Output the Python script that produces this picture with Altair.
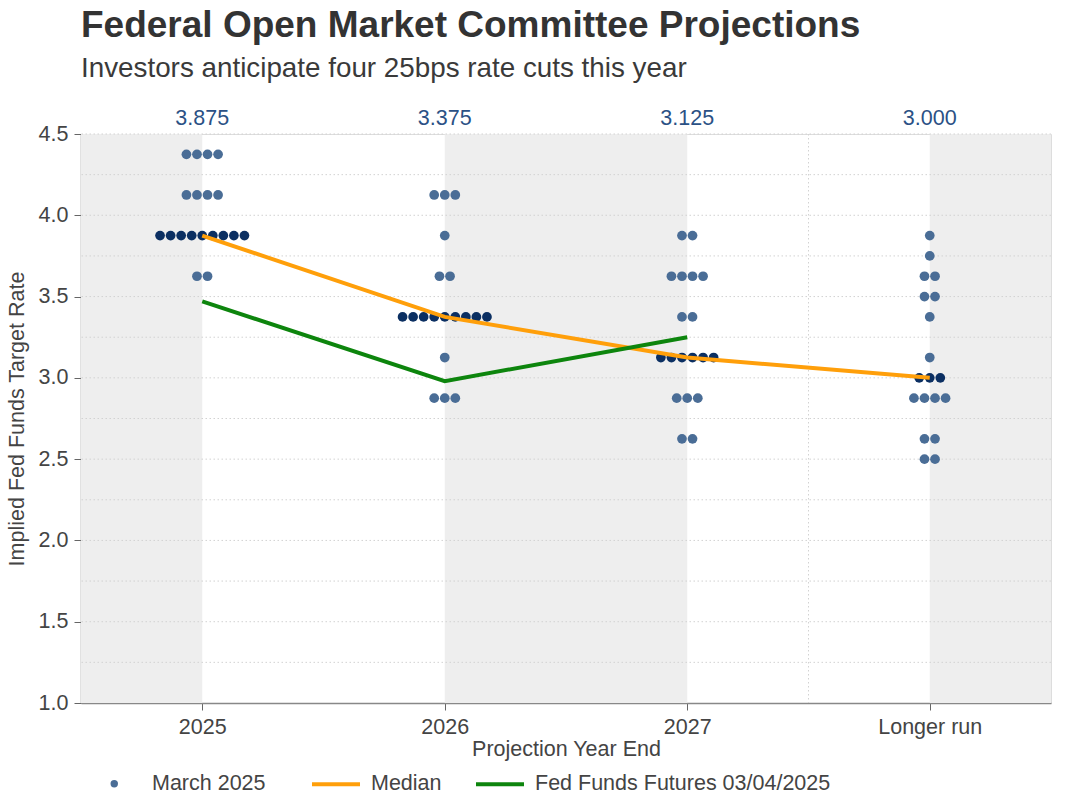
import json
import altair as alt
import pandas as pd

# ---------------- data ----------------
categories = ["2025", "2026", "2027", "Longer run"]

rates_2025 = [4.375, 4.125, 3.875, 3.625]
counts_2025 = [4, 4, 9, 2]
rates_2026 = [4.125, 3.875, 3.625, 3.375, 3.125, 2.875]
counts_2026 = [3, 1, 2, 9, 1, 3]
rates_2027 = [3.875, 3.625, 3.375, 3.125, 2.875, 2.625]
counts_2027 = [2, 4, 2, 6, 3, 2]
rates_lr = [3.875, 3.75, 3.625, 3.5, 3.375, 3.125, 3.0, 2.875, 2.625, 2.5]
counts_lr = [1, 1, 2, 2, 1, 1, 3, 4, 2, 2]

median_values = [3.875, 3.375, 3.125, 3.000]
futures_values = [3.47, 2.98, 3.25]

y_ticks = [1.0, 1.5, 2.0, 2.5, 3.0, 3.5, 4.0, 4.5]
grid_levels = [1.25, 1.5, 1.75, 2.0, 2.25, 2.5, 2.75, 3.0, 3.25, 3.5, 3.75, 4.0, 4.25, 4.5]

DOT_SERIES = "March 2025"
MEDIAN_SERIES = "Median"
FUTURES_SERIES = "Fed Funds Futures 03/04/2025"

# ---------------- styling ----------------
FONT = "Liberation Sans"
W, H = 970, 569
DOT_STEP = 0.0435  # horizontal spacing between dots (category units)
LIGHT = "#4a6d96"
DARK = "#0b2f62"
ORANGE = "#ff9f0a"
GREEN = "#0d850d"
BAND = "#eeeeee"
TEXT = "#444444"

# ---------------- tables ----------------
dot_rows = []
for ci, (rates, counts) in enumerate(
    [(rates_2025, counts_2025), (rates_2026, counts_2026),
     (rates_2027, counts_2027), (rates_lr, counts_lr)]):
    for r, n in zip(rates, counts):
        for k in range(n):
            dot_rows.append({
                "xpos": ci + (k - (n - 1) / 2) * DOT_STEP,
                "rate": r,
                "series": DOT_SERIES,
                "is_median": r == median_values[ci],
            })
dots = pd.DataFrame(dot_rows)

lines = pd.DataFrame(
    [{"xpos": i, "rate": v, "series": MEDIAN_SERIES} for i, v in enumerate(median_values)]
    + [{"xpos": i, "rate": v, "series": FUTURES_SERIES} for i, v in enumerate(futures_values)]
)

labels_top = pd.DataFrame(
    {"xpos": list(range(len(categories))), "label": [f"{v:.3f}" for v in median_values]}
)

n = len(categories)
band_edges = [-0.5] + [i for i in range(n)] + [n - 0.5]
bands = pd.DataFrame(
    [{"x0": band_edges[i], "x1": band_edges[i + 1]} for i in range(0, len(band_edges) - 1, 2)]
)
grid = pd.DataFrame({"rate": grid_levels})
vgrid = pd.DataFrame({"xpos": [2.5]})

x_scale = alt.Scale(domain=[-0.5, n - 0.5], nice=False, zero=False)
y_scale = alt.Scale(domain=[1.0, 4.5], nice=False, zero=False)

label_expr = f"{json.dumps(categories)}[datum.value]"

x_axis = alt.Axis(
    values=list(range(n)), labelExpr=label_expr, title="Projection Year End",
    grid=False, tickSize=7, tickColor="#666", domainColor="#888", domainWidth=1.5,
    labelFontSize=21.5, labelColor=TEXT, titleFontSize=21.5, titleColor=TEXT,
    titleFontWeight="normal", labelPadding=6, titlePadding=1, labelFont=FONT, titleFont=FONT,
)
y_axis = alt.Axis(
    values=y_ticks, format=".1f", title="Implied Fed Funds Target Rate",
    grid=False, tickSize=7, tickColor="#666", domainColor="#888", domainWidth=1.5,
    labelFontSize=21.5, labelColor=TEXT, titleFontSize=21.5, titleColor=TEXT,
    titleFontWeight="normal", labelPadding=6, titlePadding=10, labelFont=FONT, titleFont=FONT,
)

band_layer = alt.Chart(bands).mark_rect(color=BAND).encode(
    x=alt.X("x0:Q", scale=x_scale, axis=x_axis),
    x2="x1:Q",
    y=alt.Y(datum=4.5, scale=y_scale, axis=y_axis),
    y2=alt.Y2(datum=1.0),
)

grid_layer = alt.Chart(grid).mark_rule(
    color="#d2d2d2", strokeWidth=1, strokeDash=[1.5, 2.5]
).encode(y=alt.Y("rate:Q", scale=y_scale))

vgrid_layer = alt.Chart(vgrid).mark_rule(
    color="#d2d2d2", strokeWidth=1, strokeDash=[1.5, 2.5]
).encode(x=alt.X("xpos:Q", scale=x_scale))

dot_layer = alt.Chart(dots).mark_circle(size=95, opacity=1).encode(
    x=alt.X("xpos:Q", scale=x_scale),
    y=alt.Y("rate:Q", scale=y_scale),
    fill=alt.condition(
        "datum.is_median",
        alt.value(DARK),
        alt.Fill(
            "series:N",
            scale=alt.Scale(domain=[DOT_SERIES], range=[LIGHT]),
            legend=alt.Legend(
                title=None, orient="none", legendX=22.5, legendY=639,
                symbolType="circle", symbolSize=55, symbolFillColor=LIGHT,
                labelFontSize=21.5, labelColor=TEXT, labelFont=FONT,
                labelOffset=27, padding=0, labelLimit=400,
            ),
        ),
    ),
)

line_layer = alt.Chart(lines).mark_line(strokeWidth=4).encode(
    x=alt.X("xpos:Q", scale=x_scale),
    y=alt.Y("rate:Q", scale=y_scale),
    stroke=alt.Stroke(
        "series:N",
        scale=alt.Scale(domain=[MEDIAN_SERIES, FUTURES_SERIES], range=[ORANGE, GREEN]),
        legend=alt.Legend(
            title=None, orient="none", direction="horizontal", legendX=229, legendY=624,
            symbolType="stroke", symbolSize=2304, symbolStrokeWidth=4,
            labelFontSize=21.5, labelColor=TEXT, labelFont=FONT,
            labelOffset=9, columnPadding=26, padding=0, labelLimit=500,
        ),
    ),
    detail="series:N",
)

text_layer = alt.Chart(labels_top).mark_text(
    fontSize=21.5, color="#2b5185", font=FONT, baseline="alphabetic", dy=0
).encode(
    x=alt.X("xpos:Q", scale=x_scale),
    y=alt.value(-9),
    text="label:N",
)

chart = alt.layer(
    band_layer, grid_layer, vgrid_layer, dot_layer, line_layer, text_layer
).resolve_scale(fill="independent", stroke="independent").properties(
    width=W, height=H,
    title=alt.Title(
        "Federal Open Market Committee Projections",
        subtitle="Investors anticipate four 25bps rate cuts this year",
        anchor="start", frame="group", font=FONT, fontSize=37, fontWeight="bold",
        color="#333333", subtitleFont=FONT, subtitleFontSize=27.8, subtitleColor="#3a3a3a",
        subtitlePadding=10, offset=24,
    ),
    autosize=alt.AutoSizeParams(type="none"),
    padding={"left": 81, "top": 134, "right": 29, "bottom": 98},
).configure_view(stroke=None).configure(background="white")

chart.save("out.html", embed_options={"renderer": "svg", "actions": False})
